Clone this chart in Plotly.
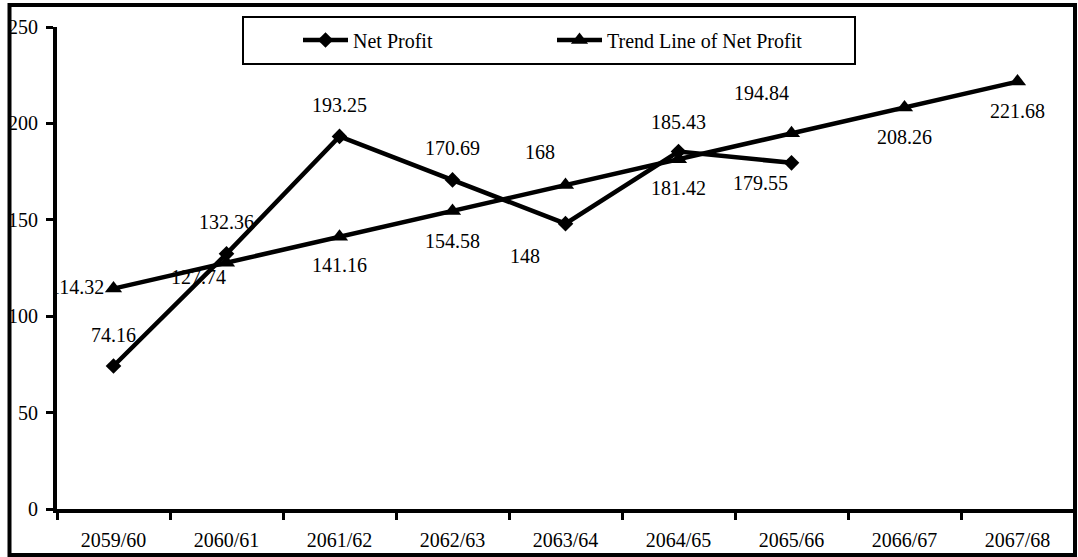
import plotly.graph_objects as go

years = ["2059/60", "2060/61", "2061/62", "2062/63", "2063/64",
         "2064/65", "2065/66", "2066/67", "2067/68"]
net_profit = [74.16, 132.36, 193.25, 170.69, 148, 185.43, 179.55]
trend = [114.32, 127.74, 141.16, 154.58, 168, 181.42, 194.84, 208.26, 221.68]
y_ticks = [0, 50, 100, 150, 200, 250]

# label offsets in pixels (style only)
net_dx = [0, 0, 0, 0, -41, 0, -31]
net_dy = [31, 32, 31, 32, -32, 29, -20]
trend_dx = [0, -28, 0, 0, -26, 0, -30, 0, 0]
trend_dy = [0, -14, -28, -30, 33, -29, 40, -30, -29]

FONT = "Liberation Serif, Times New Roman, Times, serif"
W, H = 1078, 557
ML, MR, MT, MB = 57, 4, 27, 48
PW = W - ML - MR
PH = H - MT - MB


def px_to_paper_x(px):
    return (px - ML) / PW


def px_to_paper_y(py):
    return (H - MB - py) / PH


fig = go.Figure()

fig.add_trace(go.Scatter(
    x=years[:len(net_profit)], y=net_profit, name="Net Profit",
    mode="lines+markers",
    line=dict(color="black", width=4.5),
    marker=dict(symbol="diamond", size=12, color="black"),
    cliponaxis=False,
))
fig.add_trace(go.Scatter(
    x=years, y=trend, name="Trend Line of Net Profit",
    mode="lines+markers",
    line=dict(color="black", width=4.5),
    marker=dict(symbol="triangle-up", size=15, color="black"),
    cliponaxis=False,
))

# first trend label is clipped by the plot area, as in the reference
fig.add_trace(go.Scatter(
    x=[years[0]], y=[trend[0]], text=[f"{trend[0]:g}"],
    mode="markers+text", textposition="middle left",
    marker=dict(size=13, opacity=0),
    textfont=dict(family=FONT, size=20, color="black"),
    showlegend=False, cliponaxis=True, hoverinfo="skip",
))

annotations = []
for i, v in enumerate(net_profit):
    annotations.append(dict(
        x=years[i], y=v, text=f"{v:g}", showarrow=False,
        xshift=net_dx[i], yshift=net_dy[i],
        xanchor="center", yanchor="middle",
        font=dict(family=FONT, size=20, color="black"),
    ))
for i, v in enumerate(trend):
    if i == 0:
        continue
    annotations.append(dict(
        x=years[i], y=v, text=f"{v:g}", showarrow=False,
        xshift=trend_dx[i], yshift=trend_dy[i],
        xanchor="center", yanchor="middle",
        font=dict(family=FONT, size=20, color="black"),
    ))

shapes = [
    # legend box
    dict(type="rect", xref="paper", yref="paper",
         x0=px_to_paper_x(243), x1=px_to_paper_x(855),
         y0=px_to_paper_y(64), y1=px_to_paper_y(17),
         line=dict(color="black", width=2), fillcolor="rgba(0,0,0,0)", layer="below"),
    # outer chart border
    dict(type="rect", xref="paper", yref="paper",
         x0=px_to_paper_x(9.5), x1=px_to_paper_x(1075),
         y0=px_to_paper_y(555), y1=px_to_paper_y(5),
         line=dict(color="black", width=4), fillcolor="rgba(0,0,0,0)", layer="below"),
]

fig.update_layout(
    template="none",
    width=W, height=H,
    margin=dict(l=ML, r=MR, t=MT, b=MB, pad=0),
    paper_bgcolor="white", plot_bgcolor="white",
    font=dict(family=FONT, size=20, color="black"),
    showlegend=True,
    legend=dict(
        orientation="h", x=px_to_paper_x(298), y=px_to_paper_y(40),
        xanchor="left", yanchor="middle",
        bgcolor="rgba(0,0,0,0)", borderwidth=0,
        font=dict(family=FONT, size=20, color="black"),
        itemwidth=45,
        entrywidth=194, entrywidthmode="pixels",
    ),
    xaxis=dict(
        type="category", categoryorder="array", categoryarray=years,
        range=[-0.5, len(years) - 0.5], automargin=False,
        tickson="boundaries", ticks="outside", ticklen=7, tickwidth=3,
        tickcolor="black", showline=True, linewidth=4, linecolor="black",
        showgrid=False, zeroline=False, ticklabelstandoff=10,
        layer="above traces",
        tickfont=dict(family=FONT, size=20, color="black"),
    ),
    yaxis=dict(
        range=[0, 250], tickvals=y_ticks, ticks="outside", ticklen=7,
        tickwidth=3, tickcolor="black", showline=True, linewidth=4,
        linecolor="black", showgrid=False, zeroline=False, automargin=False,
        ticklabelstandoff=4, layer="above traces",
        tickfont=dict(family=FONT, size=20, color="black"),
    ),
    annotations=annotations,
    shapes=shapes,
)

fig.write_html(
    "out.html",
    config={"displayModeBar": False},
    post_script="document.body.style.margin='0';document.body.style.padding='0';",
)
